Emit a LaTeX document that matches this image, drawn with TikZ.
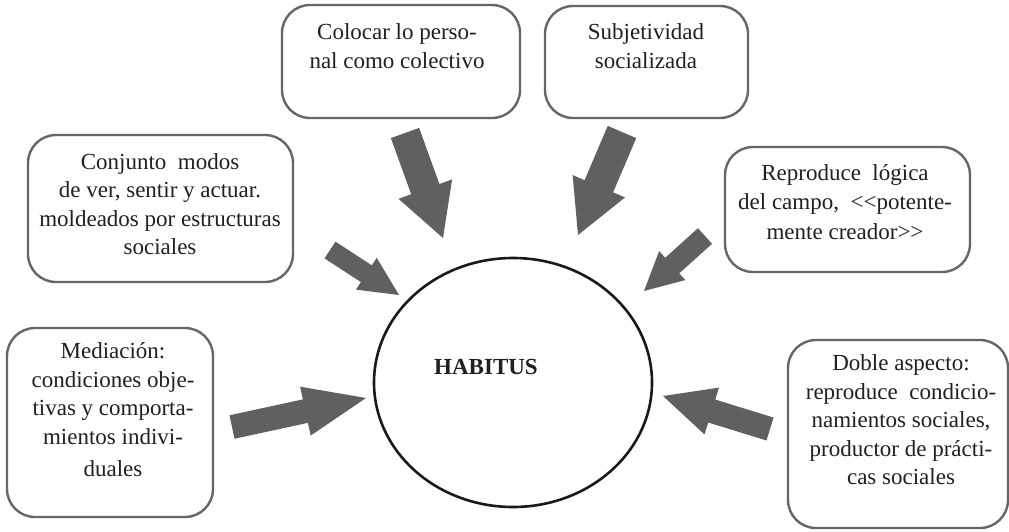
\documentclass[tikz,border=0pt]{standalone}
\usepackage{fontspec}
\setmainfont{Liberation Serif}
\newfontfamily\plainlt{Liberation Serif}
\usetikzlibrary{calc,shapes.geometric}
\definecolor{arrowgray}{HTML}{606062}
\definecolor{boxgray}{HTML}{666666}
\definecolor{inkcol}{HTML}{231F20}
\newcommand{\blockarr}[6]{%
  % #1 tail, #2 tip, #3 half shaft, #4 head length, #5 half head width, #6 name
  \coordinate (#6-b) at ($(#2)!#4!(#1)$);
  \fill[arrowfill] ($(#1)!#3!90:(#2)$) -- ($(#6-b)!#3!90:(#2)$) -- ($(#6-b)!#5!90:(#2)$)
    -- (#2) -- ($(#6-b)!#5!-90:(#2)$) -- ($(#6-b)!#3!-90:(#2)$) -- ($(#1)!#3!-90:(#2)$) -- cycle;}
\begin{document}
\begin{tikzpicture}[x=1pt,y=-1pt,
  box/.style={draw=boxgray, line width=2.4pt, rounded corners=28pt, inner sep=0pt},
  txt/.style={align=center, text=inkcol, inner sep=0pt, font=\fontsize{23}{28.5}\selectfont},
  arrowfill/.style={fill=arrowgray},
  hab/.style={ellipse, draw=black!90, line width=2.6pt, inner sep=0pt}]
\useasboundingbox (0,0) rectangle (1009,531);
\fill[white] (0,0) rectangle (1009,531);

% boxes
\node[box, minimum width=265pt, minimum height=147pt] (bA) at (160.5,208.5) {};
\node[box, minimum width=238pt, minimum height=113pt] (bB) at (401,61.5) {};
\node[box, minimum width=203pt, minimum height=112pt] (bC) at (646.5,62) {};
\node[box, minimum width=245pt, minimum height=125pt] (bD) at (847.5,209.5) {};
\node[box, minimum width=206pt, minimum height=189pt] (bE) at (110,422.5) {};
\node[box, minimum width=220pt, minimum height=188pt] (bF) at (898,434) {};

% texts
\node[txt] (tA) at (160,204) {Conjunto\ \ modos\\de ver, sentir y actuar.\\moldeados por estructuras\\sociales};
\node[txt] (tB) at (397,46) {Colocar lo perso-\\nal como colectivo};
\node[txt] (tC) at (646,46) {Subjetividad\\socializada};
\node[txt] (tD) at (845,202) {Reproduce\ \ lógica\\del campo,\ \ {\plainlt<<}potente-\\[1.5pt]mente creador{\plainlt>>}};
\node[txt] (tE) at (113,410) {Mediación:\\condiciones obje-\\tivas y comporta-\\mientos indivi-\\[4pt]duales};
\node[txt] (tF) at (901,420) {Doble aspecto:\\reproduce\ \ condicio-\\namientos sociales,\\productor de prácti-\\cas sociales};

% circle
\node[hab, minimum width=278pt, minimum height=249pt] (circ) at (513,382.5) {};
\node[txt, font=\fontsize{23}{28}\selectfont\bfseries] (htxt) at (486,367) {HABITUS};

% arrows
\coordinate (a1t) at (232,427); \coordinate (a1h) at (366,398);
\coordinate (a2t) at (330,250); \coordinate (a2h) at (399,295);
\coordinate (a3t) at (405,133); \coordinate (a3h) at (443,238);
\coordinate (a4t) at (622,132); \coordinate (a4h) at (578,235);
\coordinate (a5t) at (705,236); \coordinate (a5h) at (644,291);
\coordinate (a6t) at (770,429); \coordinate (a6h) at (663,396);
\blockarr{a1t}{a1h}{12pt}{62pt}{25pt}{a1}
\blockarr{a2t}{a2h}{10pt}{39pt}{19pt}{a2}
\blockarr{a3t}{a3h}{15pt}{52pt}{28.5pt}{a3}
\blockarr{a4t}{a4h}{15.5pt}{53pt}{28.5pt}{a4}
\blockarr{a5t}{a5h}{10.5pt}{38pt}{19.5pt}{a5}
\blockarr{a6t}{a6h}{12pt}{51pt}{24.5pt}{a6}
\end{tikzpicture}
\end{document}
